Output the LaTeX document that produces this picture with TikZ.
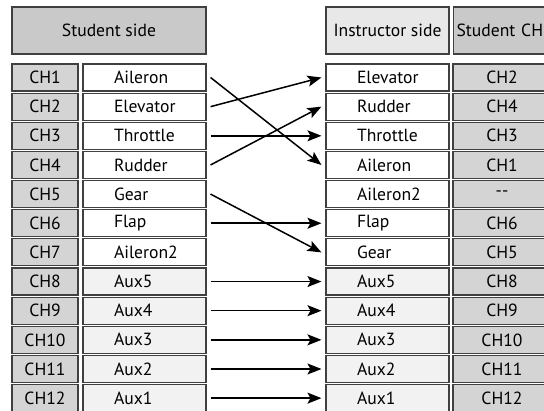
\documentclass[tikz,border=0pt]{standalone}
\usepackage{fontspec}
\setmainfont{PT Sans}
\usetikzlibrary{arrows.meta,positioning}

\definecolor{headdark}{gray}{0.79}
\definecolor{headlight}{gray}{0.91}
\definecolor{chgray}{gray}{0.83}
\definecolor{auxgray}{gray}{0.95}

\begin{document}
\begin{tikzpicture}[
  x=1pt,y=-1pt,
  font=\fontsize{17.6}{20}\selectfont,
  cell/.style={draw=black!75,line width=1.1pt,minimum height=27pt,inner sep=0pt},
  chbox/.style={cell,fill=chgray},
  namebox/.style={cell,text width=123pt,align=left,execute at begin node=\hspace*{31pt}},
  headbox/.style={cell,minimum height=47pt},
  map/.style={line width=1.5pt,-{Stealth[length=14pt,width=11pt,inset=3pt]}}
]
  \useasboundingbox (0,0) rectangle (544,411);
  \clip (0,0) rectangle (544,411);

  % headers
  \node[headbox,fill=headdark,minimum width=194pt] (stuhead) at (109,30.5) {Student side};
  \node[headbox,fill=headlight,minimum width=123pt] (inshead) at (387.5,30.5) {Instructor side};
  \node[headbox,fill=headdark,anchor=west,text width=100pt,inner xsep=3pt,align=left] (chhead) at (453,30.5) {Student CH};

  % student side
  \foreach \n/\f [count=\i] in {Aileron/white,Elevator/white,Throttle/white,Rudder/white,
      Gear/white,Flap/white,Aileron2/white,Aux5/auxgray,Aux4/auxgray,Aux3/auxgray,Aux2/auxgray,Aux1/auxgray}{
    \node[chbox,minimum width=66pt] (lch\i) at (45,{77.5+29.15*(\i-1)}) {CH\i};
    \node[namebox,fill=\f] (lname\i) at (144.5,{77.5+29.15*(\i-1)}) {\n};
  }

  % instructor side
  \foreach \n/\c/\f [count=\i] in {Elevator/CH2/white,Rudder/CH4/white,Throttle/CH3/white,Aileron/CH1/white,
      Aileron2/{-}{-}/white,Flap/CH6/white,Gear/CH5/white,Aux5/CH8/auxgray,Aux4/CH9/auxgray,
      Aux3/CH10/auxgray,Aux2/CH11/auxgray,Aux1/CH12/auxgray}{
    \node[namebox,fill=\f] (rname\i) at (387.5,{77.5+29.15*(\i-1)}) {\n};
    \node[chbox,minimum width=98pt] (rch\i) at (502,{77.5+29.15*(\i-1)}) {\c};
  }

  % channel mapping
  \foreach \a/\b in {1/4,2/1,3/3,4/2,5/7,6/6,8/8,9/9,10/10,11/11,12/12}
    \draw[map] ([xshift=4pt]lname\a.east) -- ([xshift=-4pt]rname\b.west);
\end{tikzpicture}
\end{document}
